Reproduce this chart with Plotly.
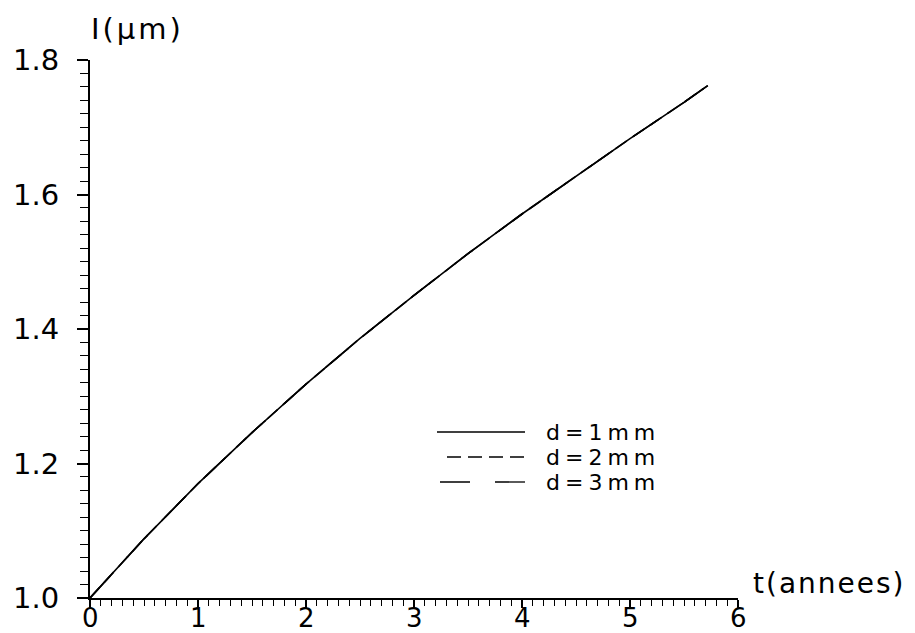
import plotly.graph_objects as go

# Data
t_years = [0, 0.5, 1.0, 1.5, 2.0, 2.5, 3.0, 3.5, 4.0, 4.5, 5.0, 5.5, 5.72]
l_d1 = [1.0, 1.088, 1.170, 1.246, 1.318, 1.386, 1.450, 1.512, 1.571, 1.627, 1.683, 1.737, 1.762]
l_d2 = [1.0, 1.088, 1.170, 1.246, 1.318, 1.386, 1.450, 1.512, 1.571, 1.627, 1.683, 1.737, 1.762]
l_d3 = [1.0, 1.088, 1.170, 1.246, 1.318, 1.386, 1.450, 1.512, 1.571, 1.627, 1.683, 1.737, 1.762]
series_names = ["d=1mm", "d=2mm", "d=3mm"]
series_dash = ["solid", "14px,7px", "30px,25px"]
x_ticks = [0, 1, 2, 3, 4, 5, 6]
y_ticks = [1.0, 1.2, 1.4, 1.6, 1.8]

FONT = "DejaVu Sans"
W, H = 915, 633
ML, MR, MT, MB = 90, 177, 60, 35
PW, PH = W - ML - MR, H - MT - MB


def px(xp):
    return (xp - ML) / PW


def py(yp):
    return (H - MB - yp) / PH


fig = go.Figure()
# dashed series first, solid last (they coincide in the reference)
for vals, name, dash in [(l_d3, series_names[2], series_dash[2]),
                         (l_d2, series_names[1], series_dash[1]),
                         (l_d1, series_names[0], series_dash[0])]:
    fig.add_trace(go.Scatter(x=t_years, y=vals, mode="lines", name=name, showlegend=False,
                             line=dict(color="black", width=1.6, dash=dash)))

# custom legend (long line samples as in the reference)
shapes = []
annotations = []
rows_y = [432, 457, 482]
sample_x = [(437, 525), (447, 525), (440, 525)]
for i, name in enumerate(series_names):
    x0, x1 = sample_x[i]
    shapes.append(dict(type="line", xref="paper", yref="paper",
                       x0=px(x0), x1=px(x1), y0=py(rows_y[i]), y1=py(rows_y[i]),
                       line=dict(color="black", width=1.3, dash=series_dash[i])))
    annotations.append(dict(text='<span style="letter-spacing:5px">%s</span>' % name,
                            xref="paper", yref="paper", x=px(545), y=py(rows_y[i]),
                            xanchor="left", yanchor="middle", showarrow=False, borderpad=0,
                            font=dict(size=22, family=FONT, color="black")))

# x tick labels placed just under the axis
for v in x_ticks:
    annotations.append(dict(text=str(v), xref="x", yref="paper", x=v, y=0,
                            xanchor="center", yanchor="top", yshift=-4, showarrow=False,
                            borderpad=0, font=dict(size=26, family=FONT, color="black")))

annotations += [
    dict(text='<span style="letter-spacing:3px">I(μm)</span>', xref="paper", yref="paper",
         x=0.0, y=1.0, xanchor="left", yanchor="bottom", yshift=13, showarrow=False,
         borderpad=0, font=dict(size=29, family=FONT)),
    dict(text='<span style="letter-spacing:2px">t(annees)</span>', xref="paper", yref="paper",
         x=1.0, y=0.0, xanchor="left", yanchor="middle", xshift=14, yshift=15, showarrow=False,
         borderpad=0, font=dict(size=28, family=FONT)),
]

fig.update_layout(
    width=W, height=H,
    margin=dict(l=ML, r=MR, t=MT, b=MB),
    paper_bgcolor="white", plot_bgcolor="white",
    font=dict(family=FONT, size=27, color="black"),
    showlegend=False,
    hovermode=False,
    shapes=shapes,
    annotations=annotations,
    xaxis=dict(range=[0, 6], tickvals=x_ticks, showticklabels=False,
               showgrid=False, zeroline=False, showline=True, linecolor="black", linewidth=2,
               ticks="outside", ticklen=8, tickwidth=1.5, tickcolor="black",
               minor=dict(dtick=0.1, ticks="outside", ticklen=6, tickwidth=1.2, tickcolor="black"),
               automargin=False),
    yaxis=dict(range=[1.0, 1.8], tickvals=y_ticks, ticktext=["%.1f" % v for v in y_ticks],
               showgrid=False, zeroline=False, showline=True, linecolor="black", linewidth=2,
               ticks="outside", ticklen=11, tickwidth=1.5, tickcolor="black",
               minor=dict(dtick=0.02, ticks="outside", ticklen=8, tickwidth=1.2, tickcolor="black"),
               automargin=False, tickfont=dict(size=29), ticklabelstandoff=12),
)

fig.write_html("out.html", config={"displayModeBar": False},
               post_script="document.body.style.margin='0px';")
